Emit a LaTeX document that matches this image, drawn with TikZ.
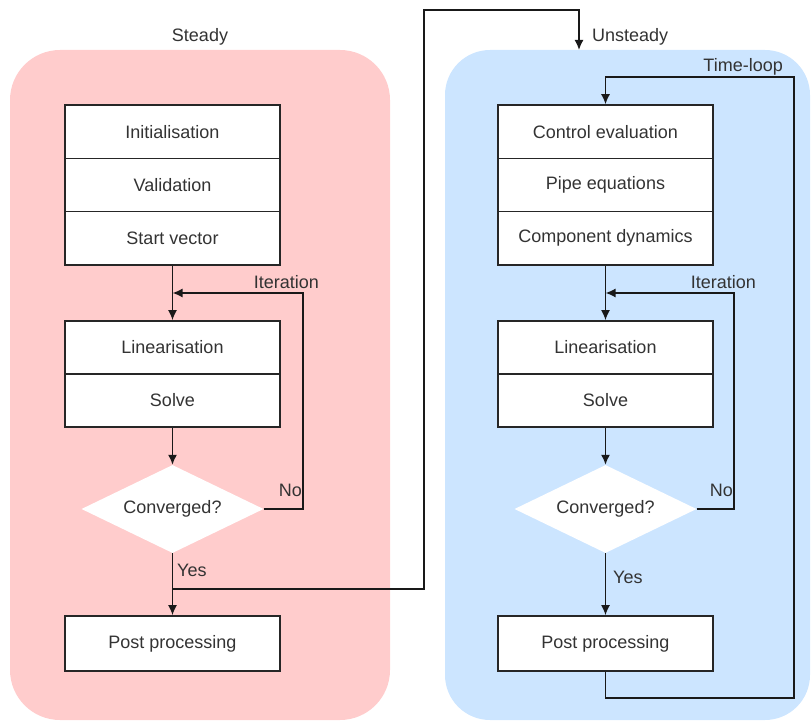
\documentclass[tikz,border=0pt]{standalone}
\usepackage{fontspec}
\setmainfont{Liberation Sans}
\usetikzlibrary{shapes.geometric,arrows.meta}
\definecolor{pinkbg}{HTML}{FFCCCC}
\definecolor{bluebg}{HTML}{CCE5FF}
\definecolor{txt}{HTML}{333333}
\begin{document}
\begin{tikzpicture}[x=1pt,y=-1pt,
  every node/.style={font=\fontsize{18}{21}\selectfont,text=txt},
  stepbox/.style={draw=black!85,line width=1.6pt,fill=white,minimum width=215pt,inner sep=0pt,anchor=center},
  decision/.style={shape=diamond,aspect=2.07,fill=white,draw=none,minimum width=182pt,minimum height=88pt,inner sep=0pt},
  conn/.style={draw=black!90,line width=1.6pt},
  arr/.style={conn,-{Latex[length=10pt,width=9pt]}},
  lbl/.style={inner sep=0pt}]
\useasboundingbox (0,0) rectangle (812,722);
% panels
\fill[pinkbg,rounded corners=50pt] (10,50) rectangle (390,720);
\fill[bluebg,rounded corners=45pt] (445,50) rectangle (810,720);
\node[lbl] (steady) at (200,37) {Steady};
\node[lbl,anchor=west] (unsteady) at (592,37) {Unsteady};
% ---------- left column ----------
\node[stepbox,minimum height=53.3pt] (init) at (172.5,131.7) {Initialisation};
\node[stepbox,minimum height=53.3pt] (valid) at (172.5,185) {Validation};
\node[stepbox,minimum height=53.3pt] (start) at (172.5,238.3) {Start vector};
\node[stepbox,minimum height=53pt] (linL) at (172.5,347.5) {Linearisation};
\node[stepbox,minimum height=53pt] (solveL) at (172.5,400.5) {Solve};
\node[decision] (convL) at (172.5,509) {Converged?};
\node[stepbox,minimum height=55pt] (postL) at (172.5,643.5) {Post processing};
\coordinate (itL) at (172.5,293);
\draw[arr] (start.south) -- (linL.north);
\draw[arr] (solveL.south) -- (convL.north);
\draw[arr] (convL.south) -- (postL.north);
\draw[arr] (convL.east) -- (303,509) -- (303,293) -- (itL);
\node[lbl,anchor=east] (iterL) at (319,282) {Iteration};
\node[lbl,anchor=east] (noL) at (302,490) {No};
\node[lbl,anchor=west] (yesL) at (177,570) {Yes};
% cross connector
\coordinate (branch) at (172.5,589);
\coordinate (entry) at (579,50);
\draw[arr] (branch) -- (424,589) -- (424,10) -- (579,10) -- (entry);
% ---------- right column ----------
\node[stepbox,minimum height=53.3pt] (ctrl) at (605.5,131.7) {Control evaluation};
\node[stepbox,minimum height=53.3pt] (pipe) at (605.5,185) {Pipe equations};
\node[stepbox,minimum height=53.3pt] (comp) at (605.5,238.3) {Component dynamics};
\node[stepbox,minimum height=53pt] (linR) at (605.5,347.5) {Linearisation};
\node[stepbox,minimum height=53pt] (solveR) at (605.5,400.5) {Solve};
\node[decision] (convR) at (605.5,509) {Converged?};
\node[stepbox,minimum height=55pt] (postR) at (605.5,643.5) {Post processing};
\coordinate (itR) at (605.5,293);
\draw[arr] (comp.south) -- (linR.north);
\draw[arr] (solveR.south) -- (convR.north);
\draw[arr] (convR.south) -- (postR.north);
\draw[arr] (convR.east) -- (734,509) -- (734,293) -- (itR);
\node[lbl,anchor=east] (iterR) at (756,282) {Iteration};
\node[lbl,anchor=east] (noR) at (733,490) {No};
\node[lbl,anchor=west] (yesR) at (613,577) {Yes};
% time loop
\draw[arr] (postR.south) -- (605.5,698) -- (794,698) -- (794,77) -- (605.5,77) -- (ctrl.north);
\node[lbl,anchor=east] (tloop) at (783,67) {Time-loop};
\end{tikzpicture}
\end{document}
